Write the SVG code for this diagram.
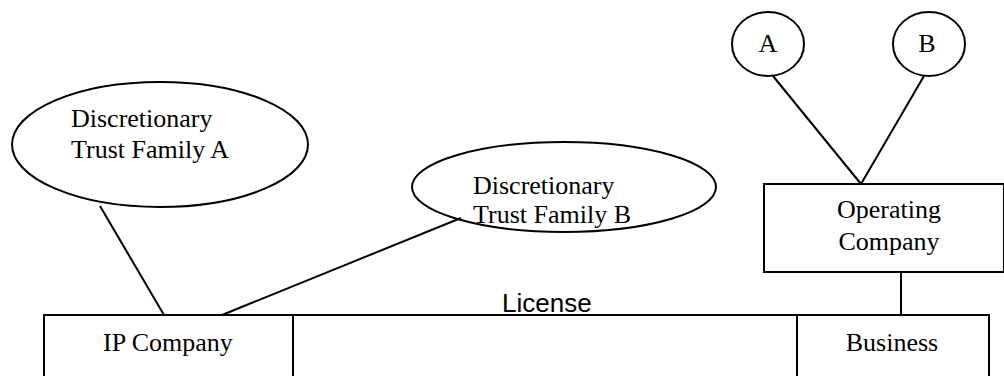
<svg xmlns="http://www.w3.org/2000/svg" width="1004" height="376" viewBox="0 0 1004 376">
<style>
.s{fill:none;stroke:#000;stroke-width:2}
.t{font-family:"Liberation Serif","Times New Roman",serif;font-size:26px;fill:#000}
.a{font-family:"Liberation Sans",Arial,sans-serif;font-size:26px;fill:#000}
</style>
<rect width="1004" height="376" fill="#fff"/>
<g id="connectors">
<line class="s" x1="100" y1="206" x2="164" y2="315"/>
<line class="s" x1="461" y1="218" x2="222" y2="315"/>
<line class="s" x1="773" y1="76" x2="861" y2="184"/>
<line class="s" x1="924" y1="76" x2="861" y2="184"/>
<line class="s" x1="901" y1="272" x2="901" y2="315"/>
</g>
<g id="license-bar">
<rect class="s" x="44" y="315" width="945" height="70"/>
<text class="a" x="502" y="312">License</text>
</g>
<g id="trust-a">
<ellipse class="s" cx="160" cy="144.5" rx="148" ry="62.5"/>
<text class="t" x="71" y="127">Discretionary</text>
<text class="t" x="71" y="158">Trust Family A</text>
</g>
<g id="trust-b">
<ellipse class="s" cx="564" cy="187" rx="152" ry="45"/>
<text class="t" x="473" y="194">Discretionary</text>
<text class="t" x="473" y="223">Trust Family B</text>
</g>
<g id="circle-a">
<ellipse class="s" cx="768" cy="44" rx="36" ry="32"/>
<text class="t" x="768" y="52" text-anchor="middle">A</text>
</g>
<g id="circle-b">
<ellipse class="s" cx="929" cy="44" rx="36" ry="32"/>
<text class="t" x="927" y="52" text-anchor="middle">B</text>
</g>
<g id="operating-company">
<rect class="s" x="764" y="184" width="240" height="88"/>
<text class="t" x="889" y="218" text-anchor="middle">Operating</text>
<text class="t" x="889" y="250" text-anchor="middle">Company</text>
</g>
<g id="ip-company">
<rect class="s" x="44" y="315" width="249" height="70"/>
<text class="t" x="168" y="351" text-anchor="middle">IP Company</text>
</g>
<g id="business">
<rect class="s" x="797" y="315" width="192" height="70"/>
<text class="t" x="892" y="351" text-anchor="middle">Business</text>
</g>
</svg>
